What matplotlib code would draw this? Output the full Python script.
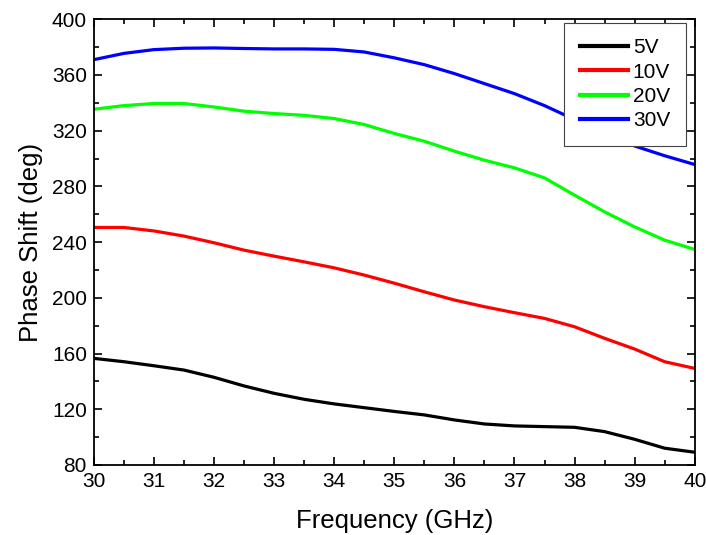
import matplotlib.pyplot as plt
from matplotlib.ticker import MultipleLocator

plt.rcParams['font.family'] = ['Liberation Sans', 'DejaVu Sans']

# Frequency points (GHz), every 0.5 GHz
freq = [30, 30.5, 31, 31.5, 32, 32.5, 33, 33.5, 34, 34.5, 35,
        35.5, 36, 36.5, 37, 37.5, 38, 38.5, 39, 39.5, 40]

phase_5v = [156.5, 154.1, 151.2, 148.1, 142.9, 136.7, 131.4, 127.1, 123.8, 121.1, 118.4,
            115.9, 112.3, 109.4, 108.0, 107.5, 107.0, 103.9, 98.4, 92.0, 89.1]
phase_10v = [250.5, 250.5, 248.0, 244.3, 239.5, 234.2, 229.9, 225.8, 221.5, 216.3, 210.5,
             204.3, 198.4, 193.6, 189.3, 185.2, 179.2, 170.9, 163.2, 154.1, 149.3]
phase_20v = [335.4, 338.0, 339.5, 339.5, 337.0, 334.0, 332.3, 331.0, 328.7, 324.4, 318.0,
             312.4, 305.3, 298.8, 293.3, 286.1, 273.7, 261.7, 250.9, 241.4, 234.7]
phase_30v = [371.0, 375.5, 378.2, 379.2, 379.4, 379.0, 378.7, 378.7, 378.4, 376.5, 372.3,
             367.4, 361.0, 353.8, 346.6, 338.0, 328.0, 318.0, 309.0, 302.0, 295.7]

labels = ['5V', '10V', '20V', '30V']
colors = ['#000000', '#ff0000', '#00ff00', '#0000ff']
series = [phase_5v, phase_10v, phase_20v, phase_30v]

fig = plt.figure(figsize=(7.06, 5.35), dpi=100)
ax = fig.add_axes([0.133, 0.131, 0.851, 0.833])

for vals, lab, col in zip(series, labels, colors):
    ax.plot(freq, vals, color=col, lw=2.3, label=lab)

ax.set_xlim(30, 40)
ax.set_ylim(80, 400)
ax.xaxis.set_major_locator(MultipleLocator(1))
ax.xaxis.set_minor_locator(MultipleLocator(0.5))
ax.yaxis.set_major_locator(MultipleLocator(40))
ax.yaxis.set_minor_locator(MultipleLocator(20))
ax.tick_params(which='both', direction='in', top=True, right=True, width=1.2)
ax.tick_params(which='major', length=6, labelsize=15, pad=5)
ax.tick_params(which='minor', length=3.5)
for sp in ax.spines.values():
    sp.set_linewidth(1.3)

ax.set_xlabel('Frequency (GHz)', fontsize=18.5, labelpad=13)
ax.set_ylabel('Phase Shift (deg)', fontsize=18.5, labelpad=6)

leg = ax.legend(loc='upper right', bbox_to_anchor=(0.985, 0.992), fontsize=15,
                fancybox=False, framealpha=1, edgecolor='#444444',
                handlelength=2.3, handletextpad=0.25, labelspacing=0.25,
                borderpad=0.75, borderaxespad=0)
leg.get_frame().set_linewidth(0.8)
for line in leg.get_lines():
    line.set_linewidth(3)

fig.savefig('out.png', dpi=100)
